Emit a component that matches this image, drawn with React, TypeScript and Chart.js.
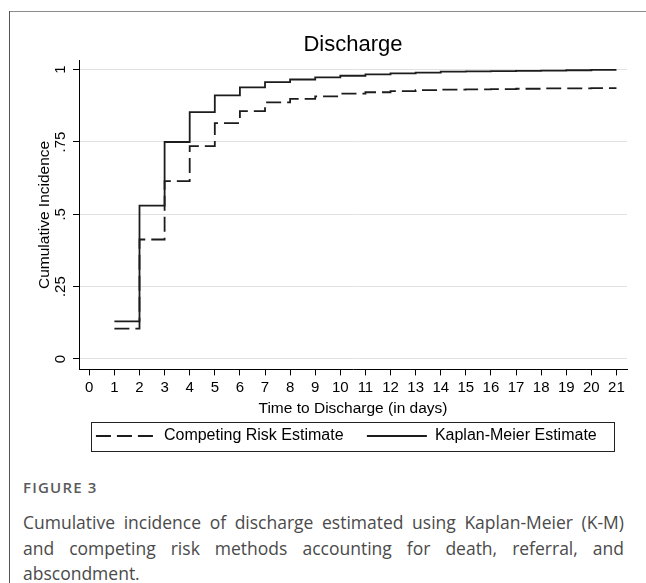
import React, { useEffect, useRef } from 'react';
import { Chart, registerables } from 'chart.js';

Chart.register(...registerables);

// ---------- data ----------
const days = [1, 2, 3, 4, 5, 6, 7, 8, 9, 10, 11, 12, 13, 14, 15, 16, 17, 18, 19, 20, 21];
const competingRisk = [
  0.105, 0.413, 0.615, 0.736, 0.815, 0.857, 0.887, 0.899, 0.908, 0.917, 0.922,
  0.926, 0.929, 0.931, 0.932, 0.933, 0.934, 0.935, 0.935, 0.936, 0.936,
];
const kaplanMeier = [
  0.13, 0.53, 0.75, 0.853, 0.911, 0.939, 0.957, 0.966, 0.973, 0.979, 0.984,
  0.987, 0.99, 0.993, 0.994, 0.995, 0.996, 0.997, 0.998, 0.999, 0.999,
];
const xTickValues = [0, 1, 2, 3, 4, 5, 6, 7, 8, 9, 10, 11, 12, 13, 14, 15, 16, 17, 18, 19, 20, 21];
const yTickValues = [0, 0.25, 0.5, 0.75, 1];
const yTickLabels = ['0', '.25', '.5', '.75', '1'];
const seriesLabels = ['Competing Risk Estimate', 'Kaplan-Meier Estimate'];
const chartTitle = 'Discharge';
const xAxisTitle = 'Time to Discharge (in days)';
const yAxisTitle = 'Cumulative Incidence';
const figureLabel = 'FIGURE 3';
const captionText =
  'Cumulative incidence of discharge estimated using Kaplan-Meier (K-M) and competing risk methods accounting for death, referral, and abscondment.';

const FONT = "'Liberation Sans', Arial, sans-serif";
const LINE = '#1c1c1c';

const legendBoxPlugin = {
  id: 'legendBox',
  afterDraw(chart: any) {
    const lg = chart.legend;
    if (!lg || !lg.legendHitBoxes || !lg.legendHitBoxes.length) return;
    const hb = lg.legendHitBoxes;
    const top = Math.min(...hb.map((h: any) => h.top)) - 6.5;
    const bottom = Math.max(...hb.map((h: any) => h.top + h.height)) + 6;
    const left = chart.chartArea.left + 12;
    const right = chart.chartArea.right - 13;
    const ctx = chart.ctx;
    ctx.save();
    ctx.strokeStyle = '#222';
    ctx.lineWidth = 1;
    ctx.setLineDash([]);
    ctx.strokeRect(Math.round(left) + 0.5, Math.round(top) + 0.5, Math.round(right - left), Math.round(bottom - top));
    ctx.restore();
  },
};

function ChartCanvas() {
  const ref = useRef<HTMLCanvasElement | null>(null);
  useEffect(() => {
    if (!ref.current) return;
    const chart = new Chart(ref.current, {
      type: 'line',
      data: {
        datasets: [
          {
            label: seriesLabels[0],
            data: days.map((d, i) => ({ x: d, y: competingRisk[i] })),
            borderColor: LINE,
            backgroundColor: LINE,
            borderWidth: 1.8,
            borderDash: [15, 6],
            stepped: 'before',
            pointRadius: 0,
            fill: false,
          },
          {
            label: seriesLabels[1],
            data: days.map((d, i) => ({ x: d, y: kaplanMeier[i] })),
            borderColor: LINE,
            backgroundColor: LINE,
            borderWidth: 1.8,
            stepped: 'before',
            pointRadius: 0,
            fill: false,
          },
        ],
      },
      options: {
        animation: false,
        responsive: false,
        layout: { padding: { left: 25.4, right: 19, top: 0, bottom: 0 } },
        plugins: {
          title: {
            display: true,
            text: chartTitle,
            fullSize: false,
            color: '#000',
            font: { family: FONT, size: 22, weight: 'normal' },
            padding: { top: 20, bottom: 2 },
          },
          legend: {
            position: 'bottom',
            fullSize: false,
            labels: {
              usePointStyle: true,
              pointStyle: 'line',
              pointStyleWidth: 60,
              padding: 10,
              color: '#000',
              font: { family: FONT, size: 16 },
              generateLabels: (c: any) => {
                const items = (Chart as any).defaults.plugins.legend.labels.generateLabels(c);
                return items.map((it: any) => {
                  const ds = c.data.datasets[it.datasetIndex];
                  return {
                    ...it,
                    text: it.text + '   ',
                    lineDash: ds.borderDash || [],
                    lineWidth: ds.borderWidth,
                    strokeStyle: ds.borderColor,
                  };
                });
              },
            },
          },
          tooltip: { enabled: false },
        },
        scales: {
          x: {
            type: 'linear',
            min: -0.41,
            max: 21.42,
            afterBuildTicks: (s: any) => {
              s.ticks = xTickValues.map((v) => ({ value: v }));
            },
            ticks: {
              autoSkip: false,
              maxRotation: 0,
              minRotation: 0,
              padding: 3,
              color: '#000',
              font: { family: FONT, size: 15 },
              callback: (v: any) => String(v),
            },
            grid: { drawOnChartArea: false, tickLength: 6, tickColor: '#000', tickWidth: 1 },
            border: { display: true, color: '#000', width: 1 },
            title: {
              display: true,
              text: xAxisTitle,
              color: '#000',
              font: { family: FONT, size: 15.5 },
              padding: { top: 0, bottom: 0 },
            },
          },
          y: {
            type: 'linear',
            min: -0.036,
            max: 1.032,
            afterBuildTicks: (s: any) => {
              s.ticks = yTickValues.map((v) => ({ value: v }));
            },
            ticks: {
              minRotation: 90,
              maxRotation: 90,
              crossAlign: 'center',
              padding: 2,
              color: '#000',
              font: { family: FONT, size: 15, lineHeight: 1 },
              callback: (v: any) => {
                const i = yTickValues.indexOf(v);
                return i >= 0 ? yTickLabels[i] : '';
              },
            },
            grid: { color: '#e2e2e2', lineWidth: 1, tickColor: '#000', tickLength: 6, tickWidth: 1 },
            border: { display: true, color: '#000', width: 1 },
            title: {
              display: true,
              text: yAxisTitle,
              color: '#000',
              font: { family: FONT, size: 15.5 },
              padding: { top: 0, bottom: 0 },
            },
          },
        },
      } as any,
      plugins: [legendBoxPlugin],
    });
    return () => chart.destroy();
  }, []);
  return <canvas ref={ref} width={636} height={442} style={{ width: 636, height: 442, display: 'block' }} />;
}

export default function App() {
  return (
    <div style={{ position: 'absolute', left: 0, top: 0, width: 646, height: 583, overflow: 'hidden', background: '#fff' }}>
      <div style={{ position: 'absolute', left: 9, top: 11, width: 637, height: 1, background: '#8c8c8c' }} />
      <div style={{ position: 'absolute', left: 9, top: 11, width: 1, height: 572, background: '#555' }} />
      <div style={{ position: 'absolute', left: 10, top: 12, width: 636, height: 442 }}>
        <ChartCanvas />
      </div>
      <div style={{ position: 'absolute', left: 23, top: 477, width: 601, fontFamily: "'Open Sans', sans-serif" }}>
        <div style={{ fontSize: 15, lineHeight: '20px', fontWeight: 600, letterSpacing: 1.2, color: '#5a5a5a', marginBottom: 13 }}>
          {figureLabel}
        </div>
        <div style={{ fontSize: 17.5, lineHeight: '25.6px', fontWeight: 400, color: '#4a4a4a', textAlign: 'justify' }}>
          {captionText}
        </div>
      </div>
    </div>
  );
}
